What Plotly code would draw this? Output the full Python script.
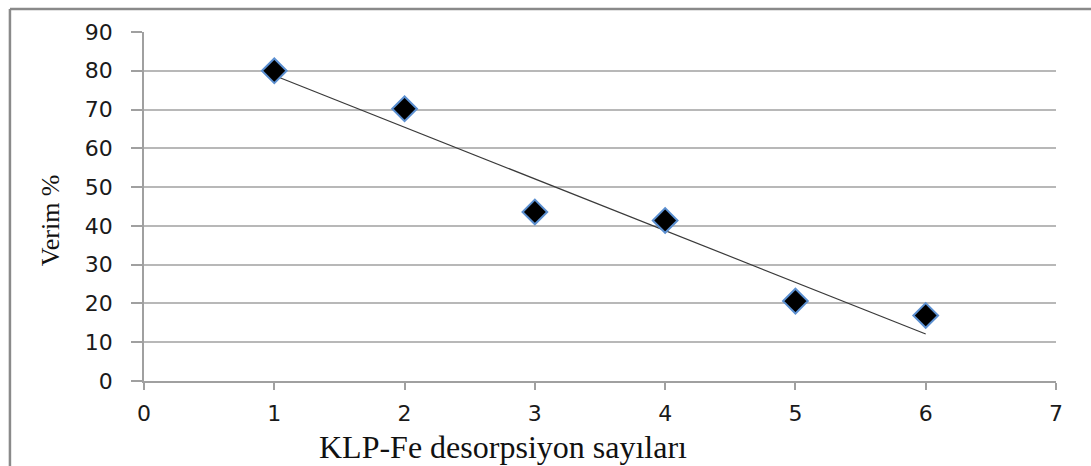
import numpy as np
import plotly.graph_objects as go

# Desorption cycle number and recovery yield (%)
cycles = [1, 2, 3, 4, 5, 6]
yield_pct = [80.0, 70.2, 43.6, 41.4, 20.6, 16.9]

x_ticks = [0, 1, 2, 3, 4, 5, 6, 7]
y_ticks = [0, 10, 20, 30, 40, 50, 60, 70, 80, 90]

# Linear trend line through the points
slope, intercept = np.polyfit(cycles, yield_pct, 1)
trend_x = [cycles[0], cycles[-1]]
trend_y = [slope * v + intercept for v in trend_x]

fig = go.Figure()
fig.add_trace(go.Scatter(
    x=trend_x, y=trend_y, mode="lines",
    line=dict(color="#3a3a3a", width=1.2),
    hoverinfo="skip", showlegend=False,
))
fig.add_trace(go.Scatter(
    x=cycles, y=yield_pct, mode="markers",
    marker=dict(symbol="diamond", size=19, color="black",
                line=dict(color="#5b8fd0", width=2)),
    showlegend=False,
))

tick_font = dict(family="DejaVu Sans", size=22, color="#1a1a1a")
serif = "Liberation Serif"

fig.update_layout(
    width=1091, height=466,
    margin=dict(l=144, r=35, t=32, b=85),
    paper_bgcolor="white", plot_bgcolor="white",
    xaxis=dict(
        range=[0, 7], tickvals=x_ticks, showgrid=False, zeroline=False,
        showline=True, linecolor="#a0a0a0", linewidth=1.5,
        ticks="outside", ticklen=7, tickcolor="#a0a0a0", tickwidth=1.5,
        tickfont=tick_font, ticklabelstandoff=5,
    ),
    yaxis=dict(
        range=[0, 90], tickvals=y_ticks, showgrid=True, gridcolor="#b8b8b8",
        gridwidth=1.5, zeroline=False,
        showline=True, linecolor="#a0a0a0", linewidth=1.5,
        ticks="outside", ticklen=11, tickcolor="#a0a0a0", tickwidth=1.5,
        tickfont=tick_font, ticklabelstandoff=14,
    ),
    annotations=[
        dict(text="KLP-Fe desorpsiyon sayıları", xref="paper", yref="paper",
             x=0.394, y=-0.19, yanchor="middle", showarrow=False,
             font=dict(family=serif, size=32, color="#111111")),
        dict(text="Verim %", xref="paper", yref="paper", textangle=-90,
             x=-0.103, y=0.461, xanchor="center", showarrow=False,
             font=dict(family=serif, size=26, color="#111111")),
    ],
    shapes=[
        dict(type="line", xref="paper", yref="paper",
             x0=-0.147, x1=1.05, y0=1.066, y1=1.066,
             line=dict(color="#8a8a8a", width=2.5)),
        dict(type="line", xref="paper", yref="paper",
             x0=-0.147, x1=-0.147, y0=1.066, y1=-0.25,
             line=dict(color="#8a8a8a", width=2.5)),
    ],
)

fig.write_html("out.html")
